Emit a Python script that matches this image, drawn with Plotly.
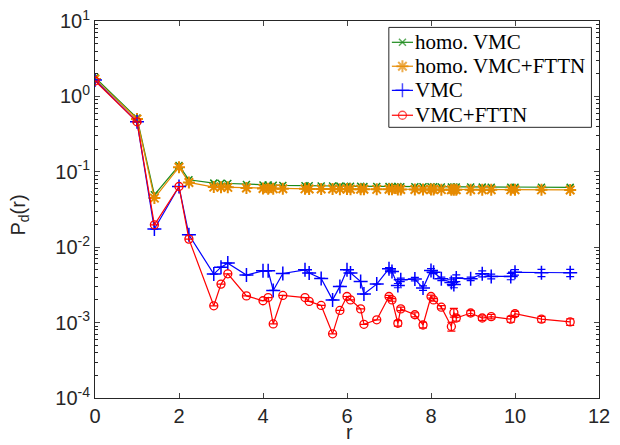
import plotly.graph_objects as go

r = [0, 1, 1.414, 2, 2.236, 2.828, 3, 3.162, 3.606, 4, 4.123, 4.243, 4.472, 5, 5.099,
     5.385, 5.657, 5.831, 6, 6.083, 6.325, 6.403, 6.708, 7, 7.071, 7.211, 7.280, 7.616,
     7.810, 8, 8.062, 8.246, 8.485, 8.544, 8.602, 8.944, 9.220, 9.434, 9.899, 10,
     10.630, 11.314]

homo_vmc = [1.78, 0.515, 0.0495, 0.121, 0.0783, 0.0708, 0.0705, 0.0700, 0.0679, 0.0670,
            0.0668, 0.0665, 0.0660, 0.0655, 0.0652, 0.0650, 0.0648, 0.0646, 0.0645, 0.0644,
            0.0642, 0.0640, 0.0638, 0.0640, 0.0638, 0.0636, 0.0635, 0.0634, 0.0632, 0.0633,
            0.0632, 0.0630, 0.0629, 0.0628, 0.0628, 0.0627, 0.0626, 0.0625, 0.0624, 0.0625,
            0.0624, 0.0622]

homo_fttn = [1.70, 0.50, 0.0448, 0.115, 0.0723, 0.0627, 0.0625, 0.0622, 0.0610, 0.0600,
             0.0598, 0.0596, 0.0595, 0.0594, 0.0592, 0.0591, 0.0590, 0.0589, 0.0590, 0.0588,
             0.0587, 0.0586, 0.0585, 0.0586, 0.0585, 0.0584, 0.0583, 0.0582, 0.0581, 0.0582,
             0.0581, 0.0580, 0.0579, 0.0579, 0.0578, 0.0578, 0.0577, 0.0577, 0.0576, 0.0577,
             0.0576, 0.0575]

vmc = [1.65, 0.46, 0.0174, 0.0638, 0.0146, 0.00440, 0.00544, 0.00615, 0.00427, 0.00486,
       0.00486, 0.00267, 0.00448, 0.00501, 0.00455, 0.00385, 0.00200, 0.00302, 0.00501,
       0.00455, 0.00351, 0.00239, 0.00324, 0.00518, 0.00476, 0.00310, 0.00370, 0.00378,
       0.00287, 0.00491, 0.00465, 0.00381, 0.00340, 0.00320, 0.00390, 0.00381, 0.00444,
       0.00410, 0.00410, 0.00465, 0.00458, 0.00458]

vmc_err = [None] * 23 + [0.0002, 0.0002, 0.0002, 0.0002, 0.0002, 0.0002, 0.0003, 0.0002,
                         0.0002, 0.0003, 0.0003, 0.0004, 0.0002, 0.0004, 0.0003, 0.0004,
                         0.0004, 0.0005, 0.0005]

vmc_fttn = [1.60, 0.46, 0.0198, 0.0638, 0.0128, 0.00167, 0.00324, 0.00444, 0.00226, 0.00195,
            0.00215, 0.00096, 0.00229, 0.00215, 0.00191, 0.00169, 0.00071, 0.00145, 0.00222,
            0.00200, 0.00152, 0.00095, 0.00109, 0.00222, 0.00200, 0.00098, 0.00152, 0.00127,
            0.00093, 0.00222, 0.00200, 0.00160, 0.00089, 0.00136, 0.00115, 0.00134, 0.00115,
            0.00120, 0.00111, 0.00131, 0.00111, 0.00102]

vmc_fttn_err = [None] * 23 + [0.00008, 0.00008, 0.00008, 0.00008, 0.00008, 0.00008, 0.0001,
                              0.00008, 0.00008, 0.00012, 0.00018, 0.0001, 0.0001, 0.00008,
                              0.00008, 0.0001, 0.0001, 0.0001, 0.0001]

series_names = ["homo. VMC", "homo. VMC+FTTN", "VMC", "VMC+FTTN"]
x_ticks = [0, 2, 4, 6, 8, 10, 12]
y_ticks = [1e-4, 1e-3, 1e-2, 1e-1, 1e0, 1e1]
y_tick_text = ["10<sup>-4</sup>", "10<sup>-3</sup>", "10<sup>-2</sup>",
               "10<sup>-1</sup>", "10<sup>0</sup>", "10<sup>1</sup>"]
minor_y = [m * 10.0 ** e for e in range(-4, 1) for m in range(2, 10)]

AX = "#262626"
COLORS = ["#1a8a1a", "#e68a00", "#0000ff", "#ff0000"]
MARKERS = [dict(symbol="x-thin-open", size=7, lw=1.5),
           dict(symbol="asterisk-open", size=10, lw=2),
           dict(symbol="cross-thin-open", size=10, lw=1.5),
           dict(symbol="circle-open", size=8, lw=1.3)]

fig = go.Figure()
data = [homo_vmc, homo_fttn, vmc, vmc_fttn]
errs = [None, None, vmc_err, vmc_fttn_err]
for name, ys, err, col, mk in zip(series_names, data, errs, COLORS, MARKERS):
    kw = {}
    if err is not None:
        kw["error_y"] = dict(type="data", array=err, color=col, thickness=1.2, width=4)
    fig.add_trace(go.Scatter(
        x=r, y=ys, name=name, mode="lines+markers", showlegend=False,
        line=dict(color=col, width=1.2),
        marker=dict(symbol=mk["symbol"], size=mk["size"], line=dict(color=col, width=mk["lw"])),
        **kw))

# ---- manual legend (MATLAB-style compact box), in plot-area fractions ----
LEG_X0, LEG_X1, LEG_Y0, LEG_Y1 = 0.583, 0.985, 0.718, 0.983
ROW_Y = [0.9435, 0.880, 0.816, 0.750]
SAMPLE_X = [0.589, 0.610, 0.631]
TEXT_X = 0.631

fig.add_shape(type="rect", xref="paper", yref="paper", x0=LEG_X0, x1=LEG_X1,
              y0=LEG_Y0, y1=LEG_Y1, line=dict(color=AX, width=1), fillcolor="white",
              layer="below")
for name, ry, col, mk in zip(series_names, ROW_Y, COLORS, MARKERS):
    fig.add_trace(go.Scatter(
        x=SAMPLE_X, y=[ry] * 3, xaxis="x2", yaxis="y2", mode="lines+markers",
        showlegend=False, hoverinfo="skip",
        line=dict(color=col, width=1.2),
        marker=dict(symbol=mk["symbol"], size=[0, mk["size"], 0],
                    line=dict(color=col, width=mk["lw"]))))
    fig.add_annotation(x=TEXT_X, y=ry, xref="paper", yref="paper", text=name,
                       showarrow=False, xanchor="left", yanchor="middle",
                       font=dict(family="Liberation Serif, Times New Roman, serif",
                                 size=21, color="black"))

# axis titles
fig.add_annotation(x=0.504, y=-0.090, xref="paper", yref="paper", text="r",
                   showarrow=False, xanchor="center", yanchor="middle",
                   font=dict(size=20, color=AX))
fig.add_annotation(x=-0.150, y=0.485, xref="paper", yref="paper",
                   text="P<sub>d</sub>(r)", textangle=-90, showarrow=False,
                   xanchor="center", yanchor="middle", font=dict(size=20, color=AX))

fig.update_layout(
    width=620, height=445,
    margin=dict(l=94.5, r=20.5, t=20.7, b=47.3),
    paper_bgcolor="white", plot_bgcolor="white",
    font=dict(family="Liberation Sans, Arial, sans-serif", size=20, color=AX),
    showlegend=False,
    xaxis=dict(range=[0, 12], tickvals=x_ticks, ticks="inside", ticklen=5,
               showline=True, linecolor=AX, linewidth=1, mirror="ticks", automargin=False,
               showgrid=False, zeroline=False, tickfont=dict(size=20, color=AX)),
    yaxis=dict(type="log", range=[-4, 1], tickvals=y_ticks, ticktext=y_tick_text,
               ticks="inside", ticklen=5, showline=True, linecolor=AX, linewidth=1,
               mirror="ticks", showgrid=False, zeroline=False, automargin=False,
               tickfont=dict(size=20, color=AX),
               minor=dict(tickvals=minor_y, ticks="inside", ticklen=3, tickcolor=AX,
                          showgrid=False)),
    xaxis2=dict(overlaying="x", range=[0, 1], visible=False, fixedrange=True),
    yaxis2=dict(overlaying="y", range=[0, 1], visible=False, fixedrange=True),
)

fig.write_html("out.html",
               config={"displayModeBar": False},
               post_script="document.body.style.margin='0';document.body.style.padding='0';"
                           "document.body.style.overflow='hidden';")
